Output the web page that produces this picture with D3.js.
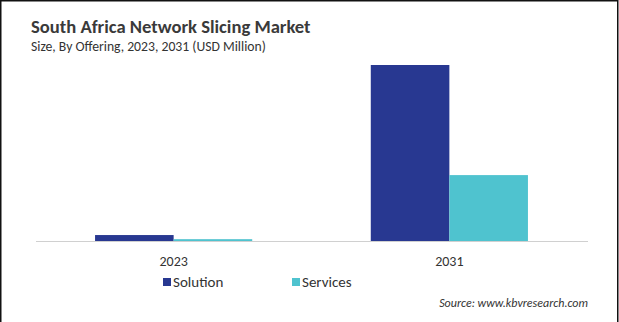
<!DOCTYPE html>
<html><head><meta charset="utf-8">
<script src="https://cdn.jsdelivr.net/npm/d3@7"></script>
<style>body{margin:0;background:#fff}svg{display:block}</style>
</head><body>
<svg id="c" width="619" height="322"></svg>
<script>
const years = ["2023", "2031"];
const seriesNames = ["Solution", "Services"];
const solution = [8.5, 251.3];
const services = [2.6, 94.1];
const colors = ["#283891", "#4fc3cf"];
const title = "South Africa Network Slicing Market";
const subtitle = "Size, By Offering, 2023, 2031 (USD Million)";
const source = "Source: www.kbvresearch.com";

const svg = d3.select("#c");
const font = "Calibri, Carlito, 'Open Sans', 'Liberation Sans', sans-serif";
svg.append("rect").attr("width",619).attr("height",322).attr("fill","#fff");
svg.append("path").attr("d","M0.75,322 V0.75 H617.75 V322").attr("fill","none").attr("stroke","#111").attr("stroke-width",1.5);

svg.append("text").attr("x",31).attr("y",33).text(title)
  .attr("font-family",font).attr("font-weight","bold").attr("font-size",18.6).attr("fill","#3a3a3a");
svg.append("text").attr("x",31).attr("y",51).text(subtitle)
  .attr("font-family",font).attr("font-size",13.7).attr("fill","#333");

const x0 = d3.scaleBand().domain(years).range([35.5, 587.5]).paddingInner(0.43).paddingOuter(0.216);
const x1 = d3.scaleBand().domain(seriesNames).range([0, x0.bandwidth()]);
const y = d3.scaleLinear().domain([0, d3.max(solution)]).range([241, 65]);

const data = years.map((yr,i)=>({year:yr, values:[solution[i], services[i]]}));
const g = svg.append("g");
data.forEach(d=>{
  d.values.forEach((v,j)=>{
    g.append("rect").attr("x", x0(d.year)+x1(seriesNames[j])).attr("width", x1.bandwidth())
      .attr("y", y(v)).attr("height", y(0)-y(v)).attr("fill", colors[j]);
  });
});

const xAxis = d3.axisBottom(x0).tickSize(0).tickPadding(15);
const ax = svg.append("g").attr("transform","translate(0,241)").call(xAxis);
ax.select(".domain").attr("stroke","#d0d0d0");
ax.selectAll("text").attr("font-family",font).attr("font-size",14).attr("fill","#333");

const leg = svg.append("g");
const legX = [163, 292];
seriesNames.forEach((s,i)=>{
  leg.append("rect").attr("x",legX[i]).attr("y",278).attr("width",8).attr("height",8).attr("fill",colors[i]);
  leg.append("text").attr("x",legX[i]+10).attr("y",287).text(s)
    .attr("font-family",font).attr("font-size",15).attr("fill","#333");
});

svg.append("text").attr("x",588).attr("y",307).attr("text-anchor","end").text(source)
  .attr("font-family",font).attr("font-style","italic").attr("font-size",12).attr("fill","#333");
</script>
</body></html>
